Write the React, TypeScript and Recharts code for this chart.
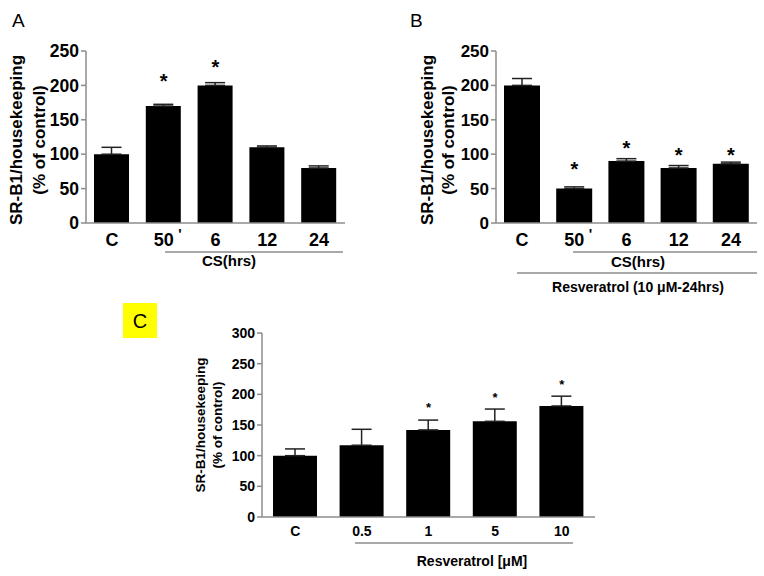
import React from "react";
import { ComposedChart, Bar, ErrorBar, Scatter, XAxis, YAxis } from "recharts";

const FONT = '"Liberation Sans", Arial, Helvetica, sans-serif';
const AXIS = "#8c8c8c";

// panel A: CS time course
const catA = ["C", "50'", "6", "12", "24"];
const valA = [100, 170, 200, 110, 80];
const errA = [10, 2.5, 4, 2, 3];
const starA = [null, 212, 232, null, null];
const ticksA = [0, 50, 100, 150, 200, 250];

// panel B: resveratrol pre-treatment + CS
const catB = ["C", "50'", "6", "12", "24"];
const valB = [200, 50, 90, 80, 86];
const errB = [10, 2.5, 3.5, 3.5, 2.5];
const starB = [null, 84, 115, 105, 105];
const ticksB = [0, 50, 100, 150, 200, 250];

// panel C: resveratrol dose
const catC = ["C", "0.5", "1", "5", "10"];
const valC = [100, 117, 142, 156, 181];
const errC = [11, 26, 16, 20, 16];
const starC = [null, null, 183, 199, 220];
const ticksC = [0, 50, 100, 150, 200, 250, 300];

const build = (cat: string[], val: number[], err: number[], star: (number | null)[]) =>
  cat.map((c, i) => ({ cat: c, val: val[i], err: err[i], star: star[i] }));

function XTick(props: any) {
  const { x, y, payload, fontSize } = props;
  const label: string = payload.value;
  const prime = label.endsWith("'");
  const main = prime ? label.slice(0, -1) : label;
  return (
    <g>
      <text x={x} y={y} dy="0.71em" textAnchor="middle" fontSize={fontSize} fontWeight="bold" fontFamily={FONT} fill="#000">
        {main}
      </text>
      {prime && (
        <text x={x + fontSize * 0.9} y={y - 4} dy="0.71em" textAnchor="middle" fontSize={fontSize * 0.8} fontWeight="bold" fontFamily={FONT} fill="#000">
          '
        </text>
      )}
    </g>
  );
}

function Panel(props: any) {
  const { left, top, width, height, margin, yWidth, data, ticks, barSize, fontSize, yFontSize, xTickMargin, starSize } = props;
  const starShape = (p: any) => {
    if (p.payload == null || p.payload.star == null) return <g />;
    return (
      <text x={p.cx} y={p.cy + starSize * 0.55} textAnchor="middle" fontSize={starSize} fontWeight="bold" fontFamily={FONT} fill="#000">
        *
      </text>
    );
  };
  return (
    <div style={{ position: "absolute", left, top }}>
      <ComposedChart width={width} height={height} data={data} margin={margin}>
        <XAxis
          dataKey="cat"
          tickLine={false}
          tickSize={0}
          tickMargin={xTickMargin}
          axisLine={{ stroke: AXIS, strokeWidth: 1.5 }}
          tick={<XTick fontSize={fontSize} />}
          interval={0}
        />
        <YAxis
          type="number"
          width={yWidth}
          domain={[ticks[0], ticks[ticks.length - 1]]}
          ticks={ticks}
          interval={0}
          tickSize={5}
          tickMargin={2}
          axisLine={{ stroke: AXIS, strokeWidth: 1.5 }}
          tickLine={{ stroke: AXIS, strokeWidth: 1.5 }}
          tick={{ fill: "#000", fontSize: yFontSize, fontWeight: "bold", fontFamily: FONT }}
        />
        <Bar dataKey="val" fill="#000" barSize={barSize} isAnimationActive={false}>
          <ErrorBar dataKey={(d: any) => [0, d.err]} width={10} stroke="#222" strokeWidth={1.5} direction="y" />
        </Bar>
        <Scatter dataKey="star" shape={starShape} isAnimationActive={false} />
      </ComposedChart>
    </div>
  );
}

export default function App() {
  const dataA = build(catA, valA, errA, starA);
  const dataB = build(catB, valB, errB, starB);
  const dataC = build(catC, valC, errC, starC);
  const txt = { fontFamily: FONT, fill: "#000" } as const;
  return (
    <div style={{ position: "absolute", left: 0, top: 0, width: 764, height: 576, background: "#fff", overflow: "hidden" }}>
      <Panel
        left={0} top={0} width={360} height={290}
        margin={{ top: 51, right: 15, bottom: 37, left: 0 }}
        yWidth={86} data={dataA} ticks={ticksA} barSize={35}
        fontSize={18} yFontSize={17.5} xTickMargin={10} starSize={20}
      />
      <Panel
        left={380} top={0} width={384} height={290}
        margin={{ top: 51, right: 7, bottom: 37, left: 0 }}
        yWidth={116} data={dataB} ticks={ticksB} barSize={36}
        fontSize={18} yFontSize={17} xTickMargin={10} starSize={20}
      />
      <Panel
        left={100} top={290} width={520} height={286}
        margin={{ top: 43, right: 25, bottom: 29, left: 0 }}
        yWidth={162} data={dataC} ticks={ticksC} barSize={44}
        fontSize={14} yFontSize={14} xTickMargin={9} starSize={13}
      />
      <svg width={764} height={576} style={{ position: "absolute", left: 0, top: 0, pointerEvents: "none" }}>
        {/* panel letters */}
        <text x={12} y={27} fontSize={19} {...txt}>A</text>
        <text x={410} y={27} fontSize={19} {...txt}>B</text>
        <rect x={123} y={303} width={34} height={35} fill="#ffff00" />
        <text x={140} y={328} fontSize={20} textAnchor="middle" {...txt}>C</text>

        {/* y labels */}
        <g transform="translate(16,140) rotate(-90)">
          <text x={0} y={0} dominantBaseline="central" textAnchor="middle" fontSize={17} fontWeight="bold" {...txt}>SR-B1/housekeeping</text>
        </g>
        <g transform="translate(39,140) rotate(-90)">
          <text x={0} y={0} dominantBaseline="central" textAnchor="middle" fontSize={17} fontWeight="bold" {...txt}>(% of control)</text>
        </g>
        <g transform="translate(427,140) rotate(-90)">
          <text x={0} y={0} dominantBaseline="central" textAnchor="middle" fontSize={17} fontWeight="bold" {...txt}>SR-B1/housekeeping</text>
        </g>
        <g transform="translate(448,140) rotate(-90)">
          <text x={0} y={0} dominantBaseline="central" textAnchor="middle" fontSize={17} fontWeight="bold" {...txt}>(% of control)</text>
        </g>
        <g transform="translate(200,425) rotate(-90)">
          <text x={0} y={0} dominantBaseline="central" textAnchor="middle" fontSize={13.5} fontWeight="bold" {...txt}>SR-B1/housekeeping</text>
        </g>
        <g transform="translate(217,425) rotate(-90)">
          <text x={0} y={0} dominantBaseline="central" textAnchor="middle" fontSize={13.5} fontWeight="bold" {...txt}>(% of control)</text>
        </g>

        {/* group brackets */}
        <line x1={165} x2={343} y1={252} y2={252} stroke={AXIS} strokeWidth={1.5} />
        <text x={229} y={260} dominantBaseline="central" textAnchor="middle" fontSize={15} fontWeight="bold" {...txt}>CS(hrs)</text>

        <line x1={573} x2={757} y1={252} y2={252} stroke={AXIS} strokeWidth={1.5} />
        <text x={638} y={261} dominantBaseline="central" textAnchor="middle" fontSize={15} fontWeight="bold" {...txt}>CS(hrs)</text>
        <line x1={517} x2={757} y1={273} y2={273} stroke={AXIS} strokeWidth={1.5} />
        <text x={638} y={287} dominantBaseline="central" textAnchor="middle" fontSize={14} fontWeight="bold" {...txt}>Resveratrol (10 μM-24hrs)</text>

        <line x1={355} x2={573} y1={543} y2={543} stroke={AXIS} strokeWidth={1.5} />
        <text x={472} y={561} dominantBaseline="central" textAnchor="middle" fontSize={14} fontWeight="bold" {...txt}>Resveratrol [μM]</text>
      </svg>
    </div>
  );
}
